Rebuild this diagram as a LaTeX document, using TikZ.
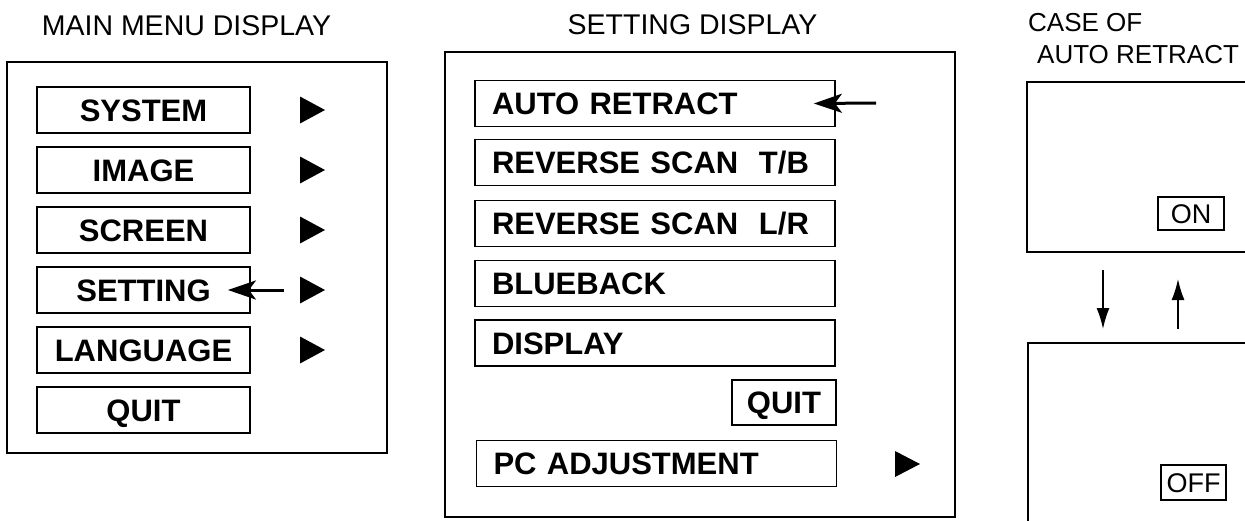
\documentclass[tikz,border=0pt]{standalone}
\usepackage{fontspec}
\setmainfont{Liberation Sans}
\usetikzlibrary{arrows.meta}
\tikzset{
  frame/.style={draw, line width=1.8pt},
  itembox/.style={draw, line width=1.8pt, inner sep=0pt, minimum height=46pt,
    text height=22.2pt, text depth=0pt,
    font=\fontsize{31}{31}\selectfont\bfseries},
  leftbox/.style={itembox, inner xsep=17pt, text width=326pt, align=left},
  title/.style={font=\fontsize{28.5}{28.5}\selectfont, inner sep=0pt},
  smalltitle/.style={font=\fontsize{26}{26}\selectfont, inner sep=0pt, anchor=west},
  statebox/.style={draw, line width=1.4pt, inner sep=0pt, text height=19.3pt, text depth=0pt,
    font=\fontsize{27}{27}\selectfont},
  pointer/.style={line width=3pt, -{Stealth[length=28pt,width=19pt,inset=7pt]}},
  flow/.style={line width=1.6pt, -{Latex[length=21pt,width=13pt]}},
  tri/.style={fill=black}
}
\begin{document}
\begin{tikzpicture}[x=1pt,y=-1pt]
\useasboundingbox (0,0) rectangle (1245,520);

% ---------- MAIN MENU DISPLAY ----------
\node[title] (t1) at (186.5,26) {MAIN MENU DISPLAY};
\draw[frame] (7,62) rectangle (387,453);
\node[itembox, minimum width=213pt] (sys) at (143.5,110) {SYSTEM};
\node[itembox, minimum width=213pt] (img) at (143.5,170) {IMAGE};
\node[itembox, minimum width=213pt] (scr) at (143.5,230) {SCREEN};
\node[itembox, minimum width=213pt] (set) at (143.5,290) {SETTING};
\node[itembox, minimum width=213pt] (lang) at (143.5,350) {LANGUAGE};
\node[itembox, minimum width=213pt] (quit) at (143.5,410) {QUIT};
\foreach \yy in {110,170,230,290,350}
  \fill[tri] (300,\yy-13.5) -- (325,\yy) -- (300,\yy+13.5) -- cycle;
\coordinate (setTail) at (284,290);
\draw[pointer] (setTail) -- ([xshift=-23pt]set.east);

% ---------- SETTING DISPLAY ----------
\node[title] (t2) at (692.5,25) {SETTING DISPLAY};
\draw[frame] (445,52) rectangle (955,517);
\node[leftbox] (ar) at (655,103.5) {AUTO RETRACT};
\node[leftbox] (rtb) at (655,162.5) {REVERSE SCAN\ \ T/B};
\node[leftbox] (rlr) at (655,223.5) {REVERSE SCAN\ \ L/R};
\node[leftbox] (bb) at (655,283.5) {BLUEBACK};
\node[leftbox] (disp) at (655,343) {DISPLAY};
\node[itembox, minimum width=104pt, minimum height=45pt] (q2) at (784,402.5) {QUIT};
\node[leftbox] (pc) at (656.5,463.5) {PC ADJUSTMENT};
\fill[tri] (895,451) -- (920,464) -- (895,477) -- cycle;
\coordinate (arTail) at (876,103);
\draw[pointer] (arTail) -- ([xshift=-22pt]ar.east);

% ---------- CASE OF AUTO RETRACT ----------
\node[smalltitle] (t3a) at (1028,23) {CASE OF};
\node[smalltitle] (t3b) at (1037,55) {AUTO RETRACT};
\draw[frame] (1270,82) -- (1027,82) -- (1027,252) -- (1270,252);
\draw[frame] (1270,343) -- (1028,343) -- (1028,540);
\node[statebox, minimum width=66pt, minimum height=33pt] (on) at (1191,213.5) {ON};
\node[statebox, minimum width=65pt, minimum height=35pt] (off) at (1193.5,482.5) {OFF};
\coordinate (dA) at (1103,270);
\coordinate (dB) at (1103,329);
\coordinate (uA) at (1178,329);
\coordinate (uB) at (1178,279);
\draw[flow] (dA) -- (dB);
\draw[flow] (uA) -- (uB);
\end{tikzpicture}
\end{document}
